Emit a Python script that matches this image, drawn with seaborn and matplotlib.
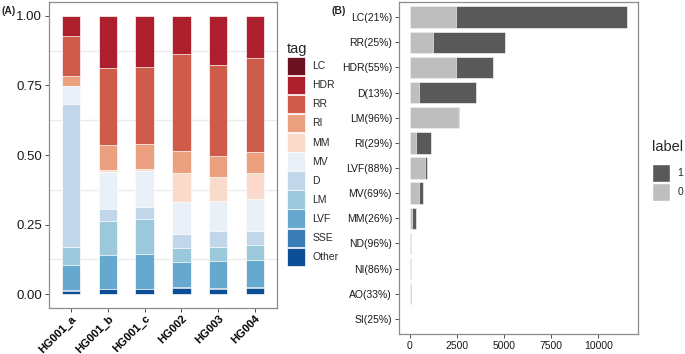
import numpy as np
import pandas as pd
import matplotlib
matplotlib.use("Agg")
import matplotlib.pyplot as plt
from matplotlib.patches import Patch
import seaborn as sns

sns.set_style("white")
plt.rcParams['font.family'] = ['Liberation Sans', 'DejaVu Sans']

# ---------------- Panel A data ----------------
samples = ["HG001_a", "HG001_b", "HG001_c", "HG002", "HG003", "HG004"]
tags = ["LC", "HDR", "RR", "RI", "MM", "MV", "D", "LM", "LVF", "SSE", "Other"]
tag_colors = ["#6A1020", "#AD1F2D", "#CF5C4A", "#EBA07F", "#FADACA", "#EAF0F8",
              "#C2D6EA", "#9CC8DC", "#66A8CE", "#3B7DB7", "#0C4F96"]
other_vals = [0.0095, 0.018, 0.018, 0.023, 0.020, 0.023]
sse_vals   = [0.006, 0.001, 0.002, 0.002, 0.003, 0.002]
lvf_vals   = [0.0895, 0.121, 0.124, 0.089, 0.095, 0.097]
lm_vals    = [0.063, 0.122, 0.127, 0.050, 0.053, 0.054]
d_vals     = [0.517, 0.044, 0.042, 0.052, 0.055, 0.051]
mv_vals    = [0.062, 0.134, 0.131, 0.115, 0.109, 0.114]
mm_vals    = [0.002, 0.006, 0.005, 0.103, 0.087, 0.096]
ri_vals    = [0.036, 0.090, 0.092, 0.080, 0.074, 0.073]
rr_vals    = [0.141, 0.277, 0.277, 0.348, 0.327, 0.338]
hdr_vals   = [0.074, 0.187, 0.182, 0.138, 0.177, 0.152]
lc_vals    = [0.0, 0.0, 0.0, 0.0, 0.0, 0.0]

# ---------------- Panel B data ----------------
b_cats = ["LC(21%)", "RR(25%)", "HDR(55%)", "D(13%)", "LM(96%)", "RI(29%)",
          "LVF(88%)", "MV(69%)", "MM(26%)", "ND(96%)", "NI(86%)", "AO(33%)", "SI(25%)"]
b_label0 = [2470, 1240, 2420, 460, 2530, 335, 795, 460, 85, 38, 50, 22, 4]
b_label1 = [9070, 3800, 2000, 3040, 70, 795, 110, 210, 235, 2, 8, 45, 11]

# stacked proportions (bottom -> top order)
stack_order = [("Other", other_vals), ("SSE", sse_vals), ("LVF", lvf_vals), ("LM", lm_vals),
               ("D", d_vals), ("MV", mv_vals), ("MM", mm_vals), ("RI", ri_vals),
               ("RR", rr_vals), ("HDR", hdr_vals), ("LC", lc_vals)]
mat = np.array([v for _, v in stack_order], dtype=float)
mat = mat / mat.sum(axis=0, keepdims=True)
cum = np.cumsum(mat, axis=0)
color_map = dict(zip(tags, tag_colors))

fig = plt.figure(figsize=(6.85, 3.54), dpi=100)
axA = fig.add_axes([49/685, 1 - 308/354, 228/685, 306/354])
axB = fig.add_axes([399/685, 1 - 334/354, 239/685, 332/354])

# Panel A: draw cumulative bars from top down
for i in range(len(stack_order) - 1, -1, -1):
    name = stack_order[i][0]
    df = pd.DataFrame({"sample": samples, "val": cum[i]})
    sns.barplot(data=df, x="sample", y="val", order=samples, color=color_map[name],
                width=0.5, edgecolor="white", linewidth=0.5, ax=axA, saturation=1)
axA.set_ylim(-0.05, 1.05)
axA.set_xlim(-0.6, 5.6)
for g in [0.125, 0.375, 0.625, 0.875]:
    axA.axhline(g, color="#EBEBEB", lw=1.0, zorder=0)
axA.set_yticks([0, 0.25, 0.5, 0.75, 1.0])
axA.set_yticklabels(["0.00", "0.25", "0.50", "0.75", "1.00"], fontsize=9.5, color="#1A1A1A")
axA.set_xticks(range(len(samples)))
axA.set_xticklabels(samples, rotation=45, ha="right", va="top", rotation_mode="anchor",
                    fontsize=8, fontweight="bold", color="black")
axA.set_xlabel("")
axA.set_ylabel("")
axA.tick_params(axis="both", length=3, color="#333333", width=0.6, bottom=True, left=True, pad=2)
axA.tick_params(axis="x", pad=1)
for s in axA.spines.values():
    s.set_color("#8C8C8C")
    s.set_linewidth(0.9)

leg_kw = dict(frameon=False, fontsize=7.5, title_fontsize=10.5, handlelength=1.75,
              handleheight=2.35, labelspacing=0.06, handletextpad=0.65,
              borderaxespad=0, borderpad=0.3)
handlesA = [Patch(facecolor=color_map[t], edgecolor="white", linewidth=0.5) for t in tags]
legA = fig.legend(handlesA, tags, title="tag", loc="upper left",
                  bbox_to_anchor=(284/685, 1 - 39/354), **leg_kw)
legA._legend_box.align = "left"

# Panel B: horizontal stacked bars
totals = [a + b for a, b in zip(b_label0, b_label1)]
dfT = pd.DataFrame({"cat": b_cats, "val": totals})
df0 = pd.DataFrame({"cat": b_cats, "val": b_label0})
sns.barplot(data=dfT, y="cat", x="val", order=b_cats, orient="h", color="#595959",
            width=0.85, edgecolor="white", linewidth=0.4, ax=axB, saturation=1)
sns.barplot(data=df0, y="cat", x="val", order=b_cats, orient="h", color="#BEBEBE",
            width=0.85, edgecolor="white", linewidth=0.4, ax=axB, saturation=1)
axB.set_xlim(-580, 12100)
axB.set_ylim(12.6, -0.6)
axB.set_xticks([0, 2500, 5000, 7500, 10000])
axB.set_xticklabels(["0", "2500", "5000", "7500", "10000"], fontsize=7.5, color="#1A1A1A")
axB.set_yticks(range(len(b_cats)))
axB.set_yticklabels(b_cats, fontsize=7.5, color="#1A1A1A")
axB.set_xlabel("")
axB.set_ylabel("")
axB.tick_params(axis="both", length=3, color="#333333", width=0.6, bottom=True, left=True, pad=2)
for s in axB.spines.values():
    s.set_color("#8C8C8C")
    s.set_linewidth(0.9)

leg_kwB = dict(leg_kw)
leg_kwB["title_fontsize"] = 10.5
handlesB = [Patch(facecolor="#595959", edgecolor="white"), Patch(facecolor="#BEBEBE", edgecolor="white")]
legB = fig.legend(handlesB, ["1", "0"], title="label", loc="upper left",
                  bbox_to_anchor=(649/685, 1 - 137/354), **leg_kwB)
legB._legend_box.align = "left"
legB._legend_box.sep = 7

fig.text(2/685, 1 - 11/354, "(A)", fontsize=7.5, fontweight="bold", va="center", ha="left")
fig.text(332/685, 1 - 11/354, "(B)", fontsize=7.5, fontweight="bold", va="center", ha="left")

fig.savefig("out.png", dpi=100)
